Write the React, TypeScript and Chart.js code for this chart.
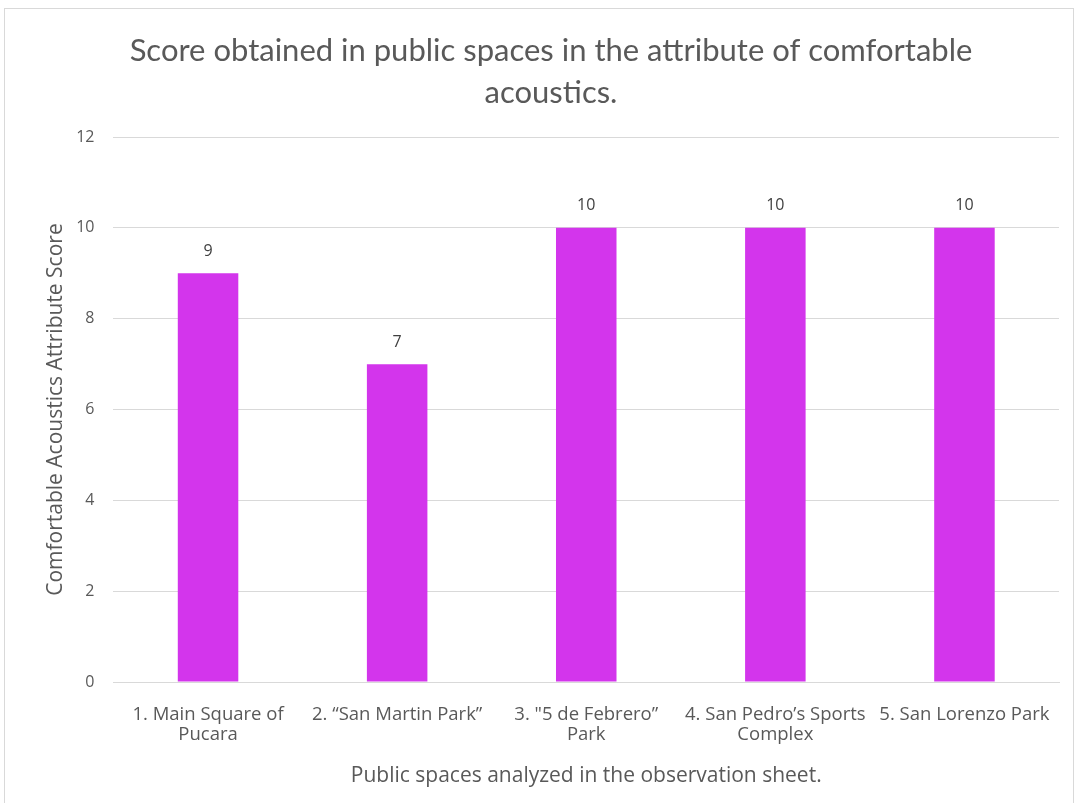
import React, { useEffect, useRef } from "react";
import { Chart, registerables } from "chart.js";

Chart.register(...registerables);

const categories: string[][] = [
  ["1. Main Square of", "Pucara"],
  ["2. “San Martin Park”"],
  ["3. \"5 de Febrero”", "Park"],
  ["4. San Pedro’s Sports", "Complex"],
  ["5. San Lorenzo Park"],
];
const scores: number[] = [9, 7, 10, 10, 10];
const titleLines: string[] = [
  "Score obtained in public spaces in the attribute of comfortable",
  "acoustics.",
];
const yTitle = "Comfortable Acoustics Attribute Score";
const xTitle = "Public spaces analyzed in the observation sheet.";

const TFONT = "Lato, sans-serif";
const FONT = "'Open Sans', sans-serif";

const valueLabels = {
  id: "valueLabels",
  afterDatasetsDraw(chart: any) {
    const ctx = chart.ctx;
    ctx.save();
    ctx.font = `16px ${FONT}`;
    ctx.fillStyle = "#404040";
    ctx.textAlign = "center";
    ctx.textBaseline = "middle";
    chart.data.datasets.forEach((ds: any, i: number) => {
      const meta = chart.getDatasetMeta(i);
      meta.data.forEach((bar: any, j: number) => {
        ctx.fillText(String(ds.data[j]), bar.x, bar.y - 22);
      });
    });
    ctx.restore();
  },
};

export default function App() {
  const ref = useRef<HTMLCanvasElement>(null);
  useEffect(() => {
    if (!ref.current) return;
    const chart = new Chart(ref.current, {
      type: "bar",
      data: {
        labels: categories,
        datasets: [
          {
            data: scores,
            backgroundColor: "#D335EC",
            barPercentage: 0.64,
            categoryPercentage: 0.5,
          },
        ],
      },
      options: {
        animation: false,
        responsive: false,
        layout: { padding: { left: 38, right: 14, top: 10, bottom: 12 } },
        plugins: {
          legend: { display: false },
          tooltip: { enabled: false },
          title: {
            display: true,
            text: titleLines,
            color: "#595959",
            font: { family: TFONT, size: 31, weight: "normal", lineHeight: 1.355 },
            padding: { top: 11, bottom: 23 },
          },
        },
        scales: {
          x: {
            grid: { display: false },
            border: { color: "#d9d9d9" },
            ticks: {
              color: "#595959",
              font: { family: FONT, size: 18.5, lineHeight: 1.1 },
              maxRotation: 0,
              autoSkip: false,
              padding: 14,
            },
            title: {
              display: true,
              text: xTitle,
              color: "#595959",
              font: { family: FONT, size: 21 },
              padding: { top: 5, bottom: 2 },
            },
          },
          y: {
            min: 0,
            max: 12,
            ticks: {
              stepSize: 2,
              color: "#595959",
              font: { family: FONT, size: 16 },
              padding: 19,
            },
            grid: { color: "#d9d9d9", drawTicks: false },
            border: { display: false },
            title: {
              display: true,
              text: yTitle,
              color: "#595959",
              font: { family: FONT, size: 21 },
              padding: { top: 0, bottom: -11 },
            },
          },
        },
      },
      plugins: [valueLabels],
    });
    return () => chart.destroy();
  }, []);
  return (
    <div
      style={{
        position: "absolute",
        left: 4,
        top: 8,
        width: 1068,
        height: 794,
        border: "1px solid #d9d9d9",
        borderBottom: "none",
        background: "#fff",
      }}
    >
      <canvas ref={ref} width={1068} height={794} style={{ display: "block" }} />
    </div>
  );
}
